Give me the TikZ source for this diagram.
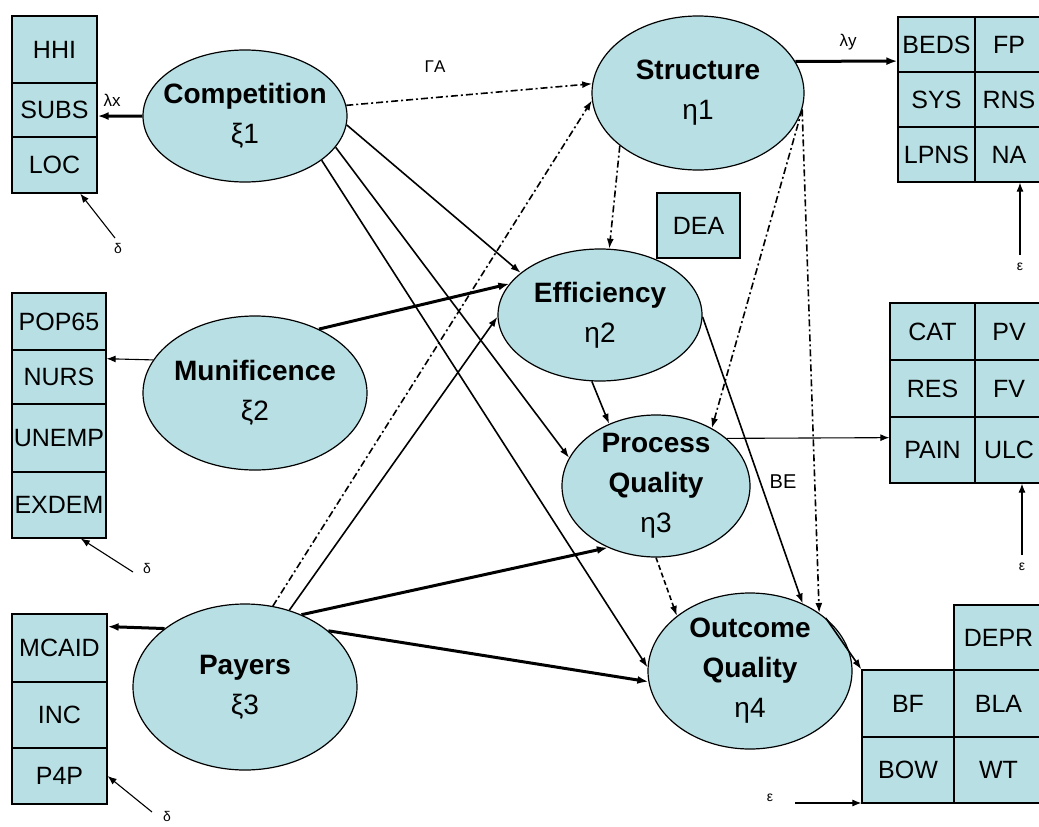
\documentclass[tikz,border=0pt]{standalone}
\usepackage{fontspec}
\setmainfont{Liberation Sans}
\usetikzlibrary{shapes.geometric,arrows.meta}
\definecolor{semfill}{RGB}{184,224,228}

\begin{document}
\begin{tikzpicture}
  [x=1pt,y=-1pt,
   latent/.style={ellipse,draw,fill=semfill,line width=1.2pt,inner sep=0pt},
   lattext/.style={align=center,font=\fontsize{28}{40}\selectfont},
   cell/.style={rectangle,draw,fill=semfill,line width=1.2pt,inner sep=0pt,font=\fontsize{25}{30}\selectfont},
   effect/.style={-{Latex[length=10pt,width=7pt]},line width=1.6pt},
   strong/.style={-{Latex[length=11pt,width=8pt]},line width=3pt},
   weak/.style={-{Latex[length=9pt,width=7pt]},line width=1.1pt},
   ddash/.style={effect,dash pattern=on 7pt off 3pt on 2pt off 3pt},
   dsh/.style={effect,dash pattern=on 5pt off 3pt},
   coef/.style={font=\fontsize{17}{19}\selectfont},
   err/.style={font=\fontsize{14}{15}\selectfont,inner sep=1pt}]
  \useasboundingbox (0,0) rectangle (1039,827);

  % latent variables
  \node[latent,minimum width=204pt,minimum height=132pt,label={[lattext]center:{\textbf{Competition}\\ξ1}}] (comp) at (245,116) {};
  \node[latent,minimum width=224pt,minimum height=154pt,label={[lattext]center:{\textbf{Munificence}\\ξ2}}] (muni) at (255,393) {};
  \node[latent,minimum width=224pt,minimum height=166pt,label={[lattext]center:{\textbf{Payers}\\ξ3}}] (payers) at (245,687) {};
  \node[latent,minimum width=212pt,minimum height=154pt,label={[lattext]center:{\textbf{Structure}\\η1}}] (str) at (698,93) {};
  \node[latent,minimum width=204pt,minimum height=132pt,label={[lattext]center:{\textbf{Efficiency}\\η2}}] (eff) at (600,315) {};
  \node[latent,minimum width=188pt,minimum height=142pt,label={[lattext]center:{\textbf{Process}\\\textbf{Quality}\\η3}}] (procq) at (656,486) {};
  \node[latent,minimum width=204pt,minimum height=156pt,label={[lattext]center:{\textbf{Outcome}\\\textbf{Quality}\\η4}}] (outq) at (750,671) {};

  % indicators
  \node[cell,minimum width=85pt,minimum height=67pt] (hhi) at (54.5,49.5) {HHI};
  \node[cell,minimum width=85pt,minimum height=54pt] (subs) at (54.5,110) {SUBS};
  \node[cell,minimum width=85pt,minimum height=56pt] (loc) at (54.5,165) {LOC};

  \node[cell,minimum width=94pt,minimum height=57pt] (pop) at (59,321.5) {POP65};
  \node[cell,minimum width=94pt,minimum height=54pt] (nurs) at (59,377) {NURS};
  \node[cell,minimum width=94pt,minimum height=68pt] (unemp) at (59,438) {UNEMP};
  \node[cell,minimum width=94pt,minimum height=66pt] (exdem) at (59,505) {EXDEM};

  \node[cell,minimum width=95pt,minimum height=68pt] (mcaid) at (59.5,648) {MCAID};
  \node[cell,minimum width=95pt,minimum height=66pt] (inc) at (59.5,715) {INC};
  \node[cell,minimum width=95pt,minimum height=56pt] (pfp) at (59.5,776) {P4P};

  \node[cell,minimum width=77pt,minimum height=55pt] (beds) at (936.5,44.5) {BEDS};
  \node[cell,minimum width=68pt,minimum height=55pt] (fp) at (1009,44.5) {FP};
  \node[cell,minimum width=77pt,minimum height=55pt] (sys) at (936.5,99.5) {SYS};
  \node[cell,minimum width=68pt,minimum height=55pt] (rns) at (1009,99.5) {RNS};
  \node[cell,minimum width=77pt,minimum height=55pt] (lpns) at (936.5,154.5) {LPNS};
  \node[cell,minimum width=68pt,minimum height=55pt] (na) at (1009,154.5) {NA};

  \node[cell,minimum width=83pt,minimum height=65pt] (dea) at (698.5,225.5) {DEA};

  \node[cell,minimum width=85pt,minimum height=57pt] (cat) at (932.5,331.5) {CAT};
  \node[cell,minimum width=68pt,minimum height=57pt] (pv) at (1009,331.5) {PV};
  \node[cell,minimum width=85pt,minimum height=57pt] (res) at (932.5,388.5) {RES};
  \node[cell,minimum width=68pt,minimum height=57pt] (fv) at (1009,388.5) {FV};
  \node[cell,minimum width=85pt,minimum height=66pt] (pain) at (932.5,450) {PAIN};
  \node[cell,minimum width=68pt,minimum height=66pt] (ulc) at (1009,450) {ULC};

  \node[cell,minimum width=89pt,minimum height=65pt] (depr) at (998.5,637.5) {DEPR};
  \node[cell,minimum width=92pt,minimum height=67pt] (bf) at (908,703.5) {BF};
  \node[cell,minimum width=89pt,minimum height=67pt] (bla) at (998.5,703.5) {BLA};
  \node[cell,minimum width=92pt,minimum height=66pt] (bow) at (908,770) {BOW};
  \node[cell,minimum width=89pt,minimum height=66pt] (wt) at (998.5,770) {WT};

  % paths
  \foreach \from/\to/\how in {comp.180/subs.-8/strong, comp.6/str.175/ddash,
      comp.-5/eff.152/effect, comp.341/procq.162/effect, comp.330/outq.178/effect,
      muni.162/nurs.21/weak, muni.45/eff.161/strong,
      payers.144/mcaid.24/strong, payers.71/str.184/ddash, payers.60/eff.181/effect,
      payers.52/procq.232/strong, payers.34/outq.186/strong,
      str.18/beds.203/strong, str.214/eff.82/ddash, str.351/procq.46/ddash, str.351/outq.40/ddash,
      eff.263/procq.127/effect, eff.-1/outq.52/effect,
      procq.34/pain.164/weak, procq.270/outq.143/dsh, outq.35/bf.north west/effect}
    \draw[\how] (\from) -- (\to);

  % coefficient labels
  \node[coef] (lx) at (112,100) {λx};
  \node[coef] (ly) at (848,42) {λy};
  \node[coef] (ga) at (435,67) {ΓA};
  \node[coef,font=\fontsize{20}{22}\selectfont] (be) at (783,482) {BE};

  % error terms
  \node[err] (d1) at (118,248) {δ};
  \coordinate (d1t) at (115,238);
  \draw[weak] (d1t) -- (loc.-48);
  \node[err] (d2) at (147,568) {δ};
  \coordinate (d2t) at (133,572);
  \draw[weak] (d2t) -- (exdem.-57);
  \node[err] (d3) at (167,816) {δ};
  \coordinate (d3t) at (152,812);
  \draw[weak] (d3t) -- (pfp.east);
  \node[err] (e1) at (1020,267) {ε};
  \coordinate (e1t) at (1020,255);
  \draw[weak] (e1t) -- (e1t |- na.south);
  \node[err] (e2) at (1022,567) {ε};
  \coordinate (e2t) at (1022,555);
  \draw[weak] (e2t) -- (e2t |- ulc.south);
  \node[err] (e3) at (770,798) {ε};
  \coordinate (e3t) at (795,803);
  \draw[weak] (e3t) -- (e3t -| bow.west);
\end{tikzpicture}
\end{document}
